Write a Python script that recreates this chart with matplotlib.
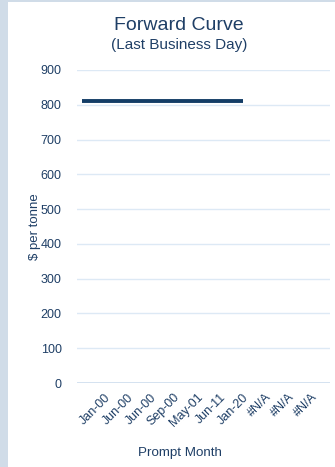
import matplotlib.pyplot as plt
from matplotlib.patches import Rectangle
import numpy as np

# chart data
months = ['', 'Jan-00', 'Jun-00', 'Jun-00', 'Sep-00', 'May-01', 'Jun-11', 'Jan-20', '#N/A', '#N/A', '#N/A']
prices = [810, 810, 810, 810, 810, 810, 810, 810, np.nan, np.nan, np.nan]
y_ticks = [0, 100, 200, 300, 400, 500, 600, 700, 800, 900]

navy = '#1f3f66'
line_col = '#143d66'
grid_col = '#dde9f5'

W, H = 335, 467
fig = plt.figure(figsize=(W / 100, H / 100), dpi=100, facecolor='#d0dce8')
# white panel
fig.patches.append(Rectangle((8 / W, 0), 1 - 8 / W, 1 - 2 / H, transform=fig.transFigure,
                             facecolor='white', edgecolor='none', zorder=-5))

ax = fig.add_axes([77 / W, 1 - 383 / H, (330 - 77) / W, (383 - 70) / H])
ax.set_facecolor('none')

x = np.arange(len(months))
ax.plot(x, prices, color=line_col, lw=2.8, solid_capstyle='butt', zorder=3)

ax.set_xlim(-0.2, len(months) - 0.2)
ax.set_ylim(0, 900)
ax.set_yticks(y_ticks)
ax.yaxis.grid(True, color=grid_col, lw=1)
ax.set_axisbelow(True)
for s in ax.spines.values():
    s.set_visible(False)
ax.axhline(0, color='#cfdeee', lw=1.2, zorder=2)

ax.set_xticks(x)
ax.set_xticklabels(months, rotation=45, ha='right', rotation_mode='anchor',
                   fontsize=9, color=navy)
ax.tick_params(axis='x', length=0, pad=6)
ax.tick_params(axis='y', length=0, pad=11, labelsize=9, labelcolor=navy)

ax.set_ylabel('$ per tonne', fontsize=9.5, color=navy, labelpad=0)
fig.text(180 / W, 1 - 453 / H, 'Prompt Month', ha='center', va='center',
         fontsize=9.6, color=navy)

fig.text(179 / W, 1 - 25 / H, 'Forward Curve', ha='center', va='center',
         fontsize=14, color=navy)
fig.text(179 / W, 1 - 45 / H, '(Last Business Day)', ha='center', va='center',
         fontsize=11, color=navy)

for lab in ax.get_yticklabels() + ax.get_xticklabels():
    lab.set_family(['Liberation Sans', 'DejaVu Sans'])
ax.yaxis.label.set_family(['Liberation Sans', 'DejaVu Sans'])
for t in fig.texts:
    t.set_family(['Liberation Sans', 'DejaVu Sans'])

fig.savefig('out.png', dpi=100, facecolor=fig.get_facecolor())
